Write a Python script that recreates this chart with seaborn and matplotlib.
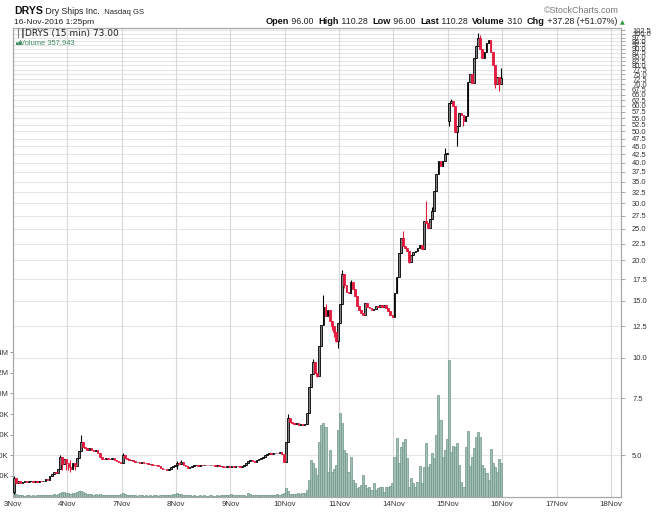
import numpy as np
import pandas as pd
import matplotlib
matplotlib.use("Agg")
import matplotlib.pyplot as plt
import matplotlib.transforms as mtransforms
from matplotlib.ticker import FixedLocator, FixedFormatter, NullLocator
import seaborn as sns

# ---------------- data ----------------
day_labels = ["3Nov", "4Nov", "7Nov", "8Nov", "9Nov", "10Nov", "11Nov",
              "14Nov", "15Nov", "16Nov", "17Nov", "18Nov"]
bars_per_day = 26

close_nov03 = [4.25, 4.10, 4.15, 4.12, 4.14, 4.15, 4.13, 4.15, 4.16, 4.14, 4.15, 4.13, 4.16,
               4.15, 4.17, 4.22, 4.20, 4.30, 4.38, 4.44, 4.40, 4.55, 4.95, 4.70, 4.88, 4.72]
close_nov04 = [4.60, 4.55, 4.72, 4.62, 4.90, 5.15, 5.50, 5.30, 5.25, 5.20, 5.25, 5.18, 5.15,
               5.20, 5.10, 4.95, 4.88, 4.87, 4.90, 4.88, 4.86, 4.90, 4.85, 4.80, 4.78, 4.75]
close_nov07 = [5.00, 4.90, 4.88, 4.82, 4.85, 4.80, 4.78, 4.78, 4.75, 4.76, 4.74, 4.72, 4.70,
               4.71, 4.68, 4.66, 4.65, 4.62, 4.58, 4.55, 4.52, 4.50, 4.55, 4.60, 4.62, 4.65]
close_nov08 = [4.75, 4.70, 4.77, 4.68, 4.62, 4.58, 4.60, 4.63, 4.65, 4.66, 4.64, 4.66, 4.65,
               4.67, 4.66, 4.65, 4.67, 4.66, 4.64, 4.65, 4.62, 4.63, 4.61, 4.60, 4.62, 4.60]
close_nov09 = [4.62, 4.60, 4.63, 4.62, 4.60, 4.63, 4.65, 4.72, 4.80, 4.85, 4.80, 4.77, 4.85,
               4.88, 4.92, 4.95, 5.00, 5.05, 5.10, 5.05, 5.08, 5.10, 5.07, 5.12, 5.05, 4.78]
close_nov10 = [5.50, 6.50, 6.35, 6.30, 6.25, 6.28, 6.22, 6.25, 6.20, 6.25, 6.75, 8.10, 8.90,
               9.70, 9.00, 8.80, 10.90, 12.60, 14.30, 13.50, 14.00, 13.00, 12.50, 12.00, 11.30, 12.80]
close_nov11 = [14.70, 18.20, 16.80, 16.00, 15.80, 17.10, 16.30, 15.50, 14.50, 14.00, 13.80, 13.60, 14.80,
               14.40, 14.20, 14.00, 14.10, 14.50, 14.30, 14.60, 14.40, 14.60, 14.20, 13.90, 13.60, 13.40]
close_nov14 = [15.90, 17.80, 21.00, 23.50, 22.20, 21.80, 21.40, 19.80, 20.80, 21.20, 21.40, 21.80, 22.30,
               21.60, 26.50, 26.00, 25.20, 26.80, 28.50, 32.80, 37.00, 40.50, 39.00, 40.50, 42.60, 43.00]
close_nov15 = [61.40, 62.00, 60.00, 49.80, 52.00, 56.90, 56.20, 54.00, 56.00, 71.00, 75.00, 70.50, 84.50,
               91.70, 97.00, 90.00, 84.50, 88.00, 94.00, 96.00, 88.00, 80.00, 70.00, 73.60, 70.00, 73.00]

# opening price of the first bar of each day
day_opens = [3.85, 4.72, 4.75, 4.65, 4.60, 4.78, 12.80, 13.40, 54.00]

# bars with visible wicks: (day, bar, high, low)
wick_day = [0, 0, 0, 0, 1, 1, 1, 1, 1, 2, 3, 3, 5, 5, 5, 5, 5, 5, 5, 5, 5,
            6, 6, 6, 7, 7, 7, 7, 7, 8, 8, 8, 8, 8, 8, 8, 8, 8]
wick_bar = [0, 22, 23, 25, 0, 1, 3, 6, 7, 0, 0, 2, 1, 13, 15, 18, 19, 22, 23, 24, 25,
            1, 2, 5, 4, 7, 15, 18, 24, 0, 1, 4, 7, 14, 15, 22, 24, 25]
wick_high = [4.30, 5.00, np.nan, np.nan, np.nan, 4.85, np.nan, 5.77, 5.45, 5.10, 4.80, 4.82,
             6.70, 9.90, np.nan, 15.60, 14.70, np.nan, np.nan, np.nan, np.nan,
             18.70, np.nan, 17.40, 24.60, np.nan, 30.40, 29.30, 44.60,
             np.nan, 63.00, np.nan, np.nan, 101.00, 99.00, np.nan, np.nan, 78.50]
wick_low = [3.80, np.nan, 4.50, 4.50, 4.50, 4.45, 4.50, np.nan, np.nan, np.nan, 4.55, np.nan,
            np.nan, np.nan, 8.70, np.nan, np.nan, 12.20, 11.60, 11.20, 10.70,
            np.nan, 16.40, np.nan, np.nan, 19.60, np.nan, np.nan, np.nan,
            52.00, np.nan, 45.20, 52.00, np.nan, np.nan, 68.00, 66.50, np.nan]

# volume per 15-min bar, thousands of shares
vol_nov03 = [40, 25, 15, 10, 10, 8, 10, 10, 8, 10, 8, 10, 12, 10, 15, 12, 10, 10, 15, 20, 15, 20, 35, 45, 40, 30]
vol_nov04 = [35, 25, 30, 30, 40, 55, 55, 40, 30, 25, 20, 20, 15, 20, 15, 20, 15, 12, 10, 12, 10, 10, 12, 10, 15, 20]
vol_nov07 = [37, 20, 15, 12, 10, 12, 10, 8, 10, 10, 8, 10, 8, 10, 8, 10, 10, 8, 10, 12, 10, 10, 12, 15, 20, 25]
vol_nov08 = [34, 25, 20, 15, 12, 10, 10, 8, 10, 8, 8, 10, 8, 10, 8, 8, 10, 8, 8, 10, 8, 10, 10, 12, 10, 15]
vol_nov09 = [20, 15, 12, 10, 10, 12, 10, 8, 35, 20, 12, 10, 12, 10, 10, 12, 15, 12, 15, 10, 12, 15, 20, 15, 20, 30]
vol_nov10 = [85, 50, 25, 20, 25, 20, 30, 25, 30, 35, 60, 160, 355, 325, 275, 210, 530, 695, 710, 675,
             240, 450, 240, 270, 310, 645]
vol_nov11 = [810, 710, 450, 420, 240, 385, 160, 130, 80, 95, 110, 210, 110, 80, 90, 65, 130, 65, 80, 90,
             90, 45, 90, 90, 100, 130]
vol_nov14 = [385, 565, 325, 480, 530, 555, 375, 90, 175, 130, 90, 140, 295, 130, 285, 520, 285, 315, 420, 375,
             600, 985, 740, 385, 450, 555]
vol_nov15 = [1325, 430, 490, 480, 520, 305, 140, 90, 480, 635, 295, 385, 470, 580, 625, 580, 305, 275, 225, 160,
             460, 325, 285, 240, 365, 330]

price_ticks = [5.0 + 2.5 * k for k in range(40)]          # 5.0 ... 102.5
vol_ticks = [200e3, 400e3, 600e3, 800e3, 1.0e6, 1.2e6, 1.4e6]
vol_tick_labels = ["200K", "400K", "600K", "800K", "1.0M", "1.2M", "1.4M"]

# ---------------- build table ----------------
closes_by_day = [close_nov03, close_nov04, close_nov07, close_nov08, close_nov09,
                 close_nov10, close_nov11, close_nov14, close_nov15]
vols_by_day = [vol_nov03, vol_nov04, vol_nov07, vol_nov08, vol_nov09,
               vol_nov10, vol_nov11, vol_nov14, vol_nov15]
rows = []
for d, (cl, vl) in enumerate(zip(closes_by_day, vols_by_day)):
    prev = day_opens[d]
    for b, (c, v) in enumerate(zip(cl, vl)):
        rows.append(dict(day=d, bar=b, open=prev, close=c, volume=v * 1000.0))
        prev = c
df = pd.DataFrame(rows)
df["x"] = np.arange(len(df)) + 0.5
df["high"] = df[["open", "close"]].max(axis=1)
df["low"] = df[["open", "close"]].min(axis=1)
wk = pd.DataFrame(dict(day=wick_day, bar=wick_bar, wh=wick_high, wl=wick_low))
df = df.merge(wk, on=["day", "bar"], how="left")
df["high"] = np.fmax(df["high"], df["wh"])
df["low"] = np.fmin(df["low"], df["wl"])
df["up"] = df["close"] >= df["open"]

# ---------------- figure ----------------
sns.set_theme(style="white")
plt.rcParams["font.family"] = ["Liberation Sans", "DejaVu Sans"]

W, H = 657, 513
fig = plt.figure(figsize=(W / 100, H / 100), dpi=100)
L, R, T, B = 13, 621, 27.5, 496.5
ax_vol = fig.add_axes([L / W, 1 - B / H, (R - L) / W, (B - T) / H])
ax = ax_vol.twinx()

n_span = (R - L) / (54.35 / bars_per_day)

# grid (drawn on the bottom axes so that volume bars cover it)
ax_vol.set_axisbelow(True)
day_pos = [i * bars_per_day for i in range(len(day_labels))]
for xp in day_pos:
    ax_vol.axvline(xp, color="#d8d8d8", lw=0.8, zorder=0.5)

# volume bars (one histogram bin per 15-min bar, weighted by volume)
n_bars = len(df)
sns.histplot(data=df, x="x", weights="volume", bins=n_bars, binrange=(0, n_bars), ax=ax_vol,
             color="#a2bfb3", edgecolor="#6f968a", linewidth=0.5, alpha=1.0, zorder=2)
ax_vol.set_xlabel("")
ax_vol.set_ylabel("")

# candles
up = df[df["up"]]
dn = df[~df["up"]]
ax.set_yscale("log")
ax.vlines(up["x"], up["low"], up["high"], color="black", lw=0.8, zorder=3)
ax.vlines(dn["x"], dn["low"], dn["high"], color="#e3193d", lw=0.8, zorder=3)
ax.bar(up["x"], up["close"] - up["open"], bottom=up["open"], width=0.8,
       facecolor="#808080", edgecolor="black", linewidth=0.6, zorder=4)
ax.bar(dn["x"], dn["open"] - dn["close"], bottom=dn["close"], width=0.8,
       facecolor="#e3193d", edgecolor="#e3193d", linewidth=0.6, zorder=4)

ax_vol.set_xlim(0, n_span)
ax.set_ylim(3.73, 104.7)
ax_vol.set_ylim(0, 4.553e6)

blend = mtransforms.blended_transform_factory(ax_vol.transAxes, ax.transData)
for p in price_ticks:
    ax_vol.plot([0, 1], [p, p], transform=blend, color="#e6e6e6", lw=0.8, zorder=0.4)

# axes styling
ax_vol.set_xticks(day_pos)
ax_vol.set_xticklabels(day_labels)
ax_vol.tick_params(axis="x", length=0, pad=3, labelsize=5.7, labelcolor="#333333")
ax_vol.yaxis.set_major_locator(FixedLocator(vol_ticks))
ax_vol.yaxis.set_major_formatter(FixedFormatter(vol_tick_labels))
ax_vol.tick_params(axis="y", left=True, length=2, width=0.6, color="#888888", pad=1,
                   labelsize=5.5, labelcolor="#333333")
ax.yaxis.set_major_locator(FixedLocator(price_ticks))
ax.yaxis.set_major_formatter(FixedFormatter([f"{p:.1f}" for p in price_ticks]))
ax.yaxis.set_minor_locator(NullLocator())
ax.tick_params(axis="y", right=True, length=3, width=0.6, color="#999999", pad=5,
               labelsize=5.4, labelcolor="#333333")
for a in (ax, ax_vol):
    for s in a.spines.values():
        s.set_color("#a8a8a8")
        s.set_linewidth(0.8)

# ---------------- header texts ----------------
renderer = fig.canvas.get_renderer()


def px(x, y):
    return x / W, 1 - y / H


def runs(parts, x, y, align="left"):
    """parts: list of (text, size, weight, color, family)."""
    objs = []
    cur = x
    for txt, size, weight, color, fam in parts:
        t = fig.text(*px(cur, y), txt, fontsize=size, fontweight=weight, color=color,
                     family=fam, va="baseline", ha="left")
        w = t.get_window_extent(renderer).width
        objs.append((t, w))
        cur += w
    if align == "right":
        total = cur - x
        cur = x - total
        for t, w in objs:
            t.set_position(px(cur, y))
            cur += w


fam = ["Liberation Sans", "DejaVu Sans"]
runs([("DRYS", 7.6, "bold", "#111111", fam), (" Dry Ships Inc.", 6.3, "normal", "#222222", fam),
      ("  Nasdaq GS", 5.5, "normal", "#222222", fam)], 14, 14.3)
runs([("16-Nov-2016 1:25pm", 6.1, "normal", "#222222", fam)], 14, 24.2)
runs([("\u00a9StockCharts.com", 6.4, "normal", "#777777", fam)], 619, 13.3, align="right")
runs([("Open", 6.6, "bold", "#111111", fam), (" 96.00  ", 6.3, "normal", "#222222", fam),
      ("High", 6.6, "bold", "#111111", fam), (" 110.28  ", 6.3, "normal", "#222222", fam),
      ("Low", 6.6, "bold", "#111111", fam), (" 96.00  ", 6.3, "normal", "#222222", fam),
      ("Last", 6.6, "bold", "#111111", fam), (" 110.28  ", 6.3, "normal", "#222222", fam),
      ("Volume", 6.6, "bold", "#111111", fam), (" 310  ", 6.3, "normal", "#222222", fam),
      ("Chg", 6.6, "bold", "#111111", fam), (" +37.28 (+51.07%)", 6.3, "normal", "#222222", fam)],
     617, 24.3, align="right")
fig.text(*px(619.5, 24.0), "\u25b2", fontsize=4.5, color="#2b9a3a", va="baseline", ha="left",
         family=["DejaVu Sans"])

# in-plot legend
fig.text(*px(15.5, 35.6), "\u2502\u2503", fontsize=5.5, color="#222222", va="baseline",
         family=["DejaVu Sans"])
runs([("DRYS (15 min) 73.00", 6.5, "normal", "#222222", ["DejaVu Sans"])], 25, 35.6)
fig.text(*px(15.5, 44.0), "\u2585\u2587", fontsize=2.6, color="#3f8a63", va="baseline",
         family=["DejaVu Sans"])
runs([("Volume 357,943", 5.4, "normal", "#3f8a63", fam)], 19.5, 44.0)

fig.savefig("out.png", dpi=100)
